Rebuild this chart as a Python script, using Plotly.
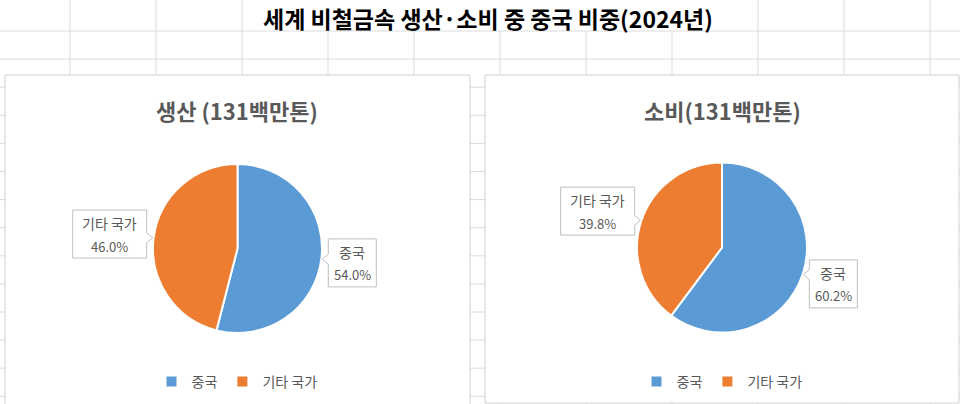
import math
import plotly.graph_objects as go

# ---------------- data ----------------
labels = ["중국", "기타 국가"]
production = [54.0, 46.0]
consumption = [60.2, 39.8]
chart_titles = ["생산 (131백만톤)", "소비(131백만톤)"]
main_title = "세계 비철금속 생산·소비 중 중국 비중(2024년)"

# ---------------- styles ----------------
colors = ["#5B9BD5", "#ED7D31"]
FONT = "Noto Sans CJK KR"
GREY_TXT = "#595959"
GRID = "#dcdcdc"
BOX_LINE = "#d0d0d0"
W, H = 960, 404
ZWSP = "\u200b"  # keeps the second chart's legend entries separate from the first


def px(x):
    return x / W


def py(y):
    return 1 - y / H


PIES = [
    dict(cx=237.5, cy=248.5, r=84.5, legend="legend", box=(5, 75, 470, 430), title_x=237, leg_x=237, suffix=""),
    dict(cx=722.0, cy=247.5, r=85.0, legend="legend2", box=(485, 75, 959, 403), title_x=722, leg_x=722, suffix=ZWSP),
]
BOX_W = {"중국": 48, "기타 국가": 74}
BOX_H = 48

fig = go.Figure()
shapes = []
annotations = []

# Excel-like worksheet grid (background decoration)
cols = [70 + 86 * k for k in range(11)]
rows = [31 + 28.1 * k for k in range(14)]
for x in cols:
    y_start = 31 if 243 < x < 757 else 0
    shapes.append(dict(type="line", xref="paper", yref="paper", x0=px(x), x1=px(x),
                       y0=py(y_start), y1=py(H), line=dict(color=GRID, width=1), layer="below"))
for y in rows:
    shapes.append(dict(type="line", xref="paper", yref="paper", x0=0, x1=1,
                       y0=py(y), y1=py(y), line=dict(color=GRID, width=1), layer="below"))

series = [production, consumption]
for p, vals, ttl in zip(PIES, series, chart_titles):
    bx0, by0, bx1, by1 = p["box"]
    shapes.append(dict(type="rect", xref="paper", yref="paper", x0=px(bx0), x1=px(bx1),
                       y0=py(by1), y1=py(by0), fillcolor="white",
                       line=dict(color=BOX_LINE, width=1), layer="below"))
    cx, cy, r = p["cx"], p["cy"], p["r"]
    fig.add_trace(go.Pie(
        labels=[lab + p["suffix"] for lab in labels], values=vals, sort=False,
        direction="clockwise", rotation=0,
        marker=dict(colors=colors, line=dict(color="white", width=2)),
        textinfo="none", hoverinfo="label+percent",
        domain=dict(x=[px(cx - r), px(cx + r)], y=[py(cy + r), py(cy - r)]),
        legend=p["legend"], showlegend=True,
    ))
    annotations.append(dict(xref="paper", yref="paper", x=px(p["title_x"]), y=py(110),
                            xanchor="center", yanchor="middle", showarrow=False,
                            text=f"<b>{ttl}</b>", font=dict(family=FONT, size=22, color=GREY_TXT)))

    # callout data labels
    total = sum(vals)
    cum = 0.0
    for lab, v in zip(labels, vals):
        m = (cum + v / 2) / total
        cum += v
        th = 2 * math.pi * m
        s, c = math.sin(th), -math.cos(th)
        tipx, tipy = cx + (r + 1) * s, cy + (r + 1) * c
        edge = cx + (r + 7) * s
        bcy = cy + 1.36 * r * c
        w = BOX_W[lab]
        y0, y1 = bcy - BOX_H / 2, bcy + BOX_H / 2
        ny = min(max(tipy, y0 + 9), y1 - 9)
        if s > 0:
            x0, x1 = edge, edge + w
            pts = [(x0, y0), (x1, y0), (x1, y1), (x0, y1), (x0, ny + 5), (tipx, tipy), (x0, ny - 5)]
        else:
            x0, x1 = edge - w, edge
            pts = [(x0, y0), (x1, y0), (x1, ny - 5), (tipx, tipy), (x1, ny + 5), (x1, y1), (x0, y1)]
        path = "M " + " L ".join(f"{px(a):.5f},{py(b):.5f}" for a, b in pts) + " Z"
        shapes.append(dict(type="path", xref="paper", yref="paper", path=path,
                           fillcolor="white", line=dict(color="#bfbfbf", width=1), layer="above"))
        bcx = (x0 + x1) / 2
        annotations.append(dict(xref="paper", yref="paper", x=px(bcx), y=py(bcy - 11),
                                xanchor="center", yanchor="middle", showarrow=False, text=lab,
                                font=dict(family=FONT, size=14, color=GREY_TXT)))
        annotations.append(dict(xref="paper", yref="paper", x=px(bcx), y=py(bcy + 12),
                                xanchor="center", yanchor="middle", showarrow=False,
                                text=f"{v / total * 100:.1f}%",
                                font=dict(family=FONT, size=13, color=GREY_TXT)))

# main title as a top-anchored text box
annotations.append(dict(xref="paper", yref="paper", x=px(488), y=1, xanchor="center",
                        yanchor="top", showarrow=False, borderpad=0,
                        text=f"<b>{main_title}</b>",
                        font=dict(family=FONT, size=23, color="#000000")))

# white cell behind the merged title cell
shapes.append(dict(type="rect", xref="paper", yref="paper", x0=px(244), x1=px(756),
                   y0=py(30), y1=py(0), fillcolor="white", line=dict(width=0), layer="below"))

leg_common = dict(orientation="h", xanchor="center", yanchor="middle",
                  font=dict(family=FONT, size=14, color=GREY_TXT), bgcolor="rgba(0,0,0,0)",
                  traceorder="normal")

fig.update_layout(
    width=W, height=H,
    margin=dict(l=0, r=0, t=0, b=0),
    paper_bgcolor="white", plot_bgcolor="white",
    font=dict(family=FONT),
    legend=dict(x=px(PIES[0]["leg_x"]), y=py(382), **leg_common),
    legend2=dict(x=px(PIES[1]["leg_x"]), y=py(382), **leg_common),
    shapes=shapes,
    annotations=annotations,
)

fig.write_html("out.html")
